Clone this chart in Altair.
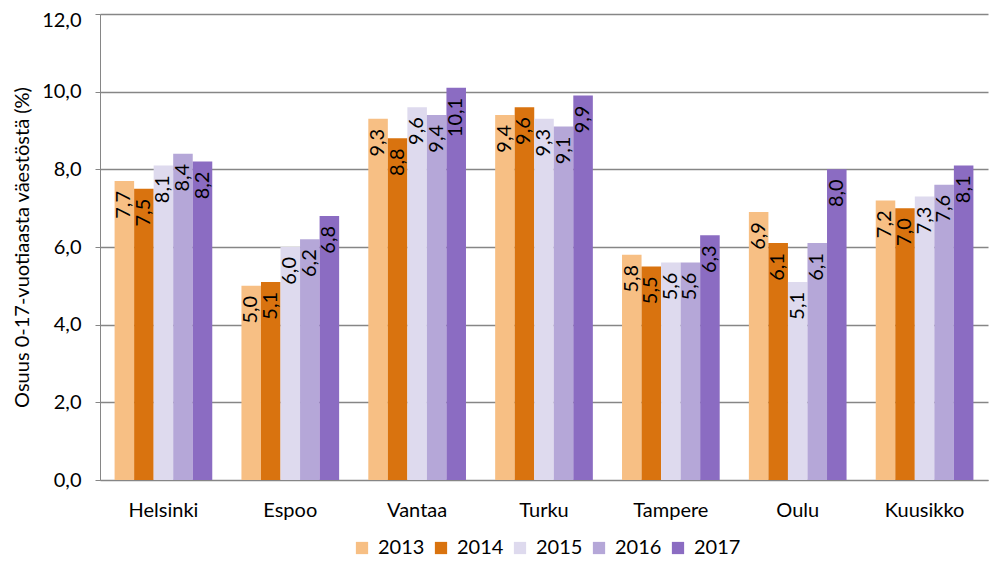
import altair as alt
import pandas as pd

cities = ["Helsinki", "Espoo", "Vantaa", "Turku", "Tampere", "Oulu", "Kuusikko"]
years = ["2013", "2014", "2015", "2016", "2017"]
v2013 = [7.7, 5.0, 9.3, 9.4, 5.8, 6.9, 7.2]
v2014 = [7.5, 5.1, 8.8, 9.6, 5.5, 6.1, 7.0]
v2015 = [8.1, 6.0, 9.6, 9.3, 5.6, 5.1, 7.3]
v2016 = [8.4, 6.2, 9.4, 9.1, 5.6, 6.1, 7.6]
v2017 = [8.2, 6.8, 10.1, 9.9, 6.3, 8.0, 8.1]
colors = ["#F7BF84", "#D9730F", "#DEDAEE", "#B5A7D8", "#8B6CC2"]

series = [v2013, v2014, v2015, v2016, v2017]
rows = []
for y, vals in zip(years, series):
    for c, v in zip(cities, vals):
        rows.append({"city": c, "year": y, "value": v})
df = pd.DataFrame(rows)

FONT = "Lato"
FS = 20
x = alt.X("city:N", sort=cities, title=None,
          scale=alt.Scale(paddingInner=0.23, paddingOuter=0.115),
          axis=alt.Axis(labelAngle=0, labelFontSize=FS, labelFont=FONT, labelColor="#000",
                        ticks=False, domainColor="#868686", domainWidth=1, labelPadding=20))
xo = alt.XOffset("year:N", sort=years, scale=alt.Scale(paddingInner=0, paddingOuter=0))

base = alt.Chart(df)
bars = base.mark_bar().encode(
    x=x, xOffset=xo,
    y=alt.Y("value:Q", title="Osuus 0-17-vuotiaasta väestöstä  (%)",
            scale=alt.Scale(domain=[0, 12]),
            axis=alt.Axis(values=[0, 2, 4, 6, 8, 10, 12], labelFontSize=FS, labelFont=FONT,
                          labelColor="#000", titleFontSize=FS, titleFont=FONT, titleColor="#000",
                          titleFontWeight="normal", titlePadding=9,
                          labelExpr="replace(format(datum.value, '.1f'), '.', ',')",
                          labelBaseline={"condition": {"test": "datum.value == 12", "value": "top"},
                                         "value": "middle"},
                          labelOffset={"condition": {"test": "datum.value == 12", "value": -4},
                                       "value": 0},
                          domainColor="#868686", tickColor="#868686", tickSize=5,
                          labelPadding=14, gridColor="#868686", gridWidth=1.5)),
    color=alt.Color("year:N", sort=years, title=None,
                    scale=alt.Scale(domain=years, range=colors),
                    legend=alt.Legend(orient="none", direction="horizontal", legendX=252, legendY=524,
                                      symbolType="square", symbolSize=150, symbolStrokeWidth=0,
                                      labelFontSize=FS, labelFont=FONT, labelColor="#000",
                                      columnPadding=6, labelOffset=6)),
)

labels = base.transform_calculate(
    label="replace(format(datum.value, '.1f'), '.', ',')"
).mark_text(angle=270, align="right", baseline="middle", fontSize=FS, font=FONT,
            color="#000", dx=-10).encode(
    x=x, xOffset=xo, y="value:Q", text="label:N")

chart = alt.layer(bars, labels).properties(
    width=888, height=466,
    autosize=alt.AutoSizeParams(type="none"),
    padding={"left": 92, "top": 6, "right": 9, "bottom": 86},
).configure_view(stroke=None).configure_axisX(grid=False)

chart.save("out.html", embed_options={"renderer": "svg", "actions": False})
